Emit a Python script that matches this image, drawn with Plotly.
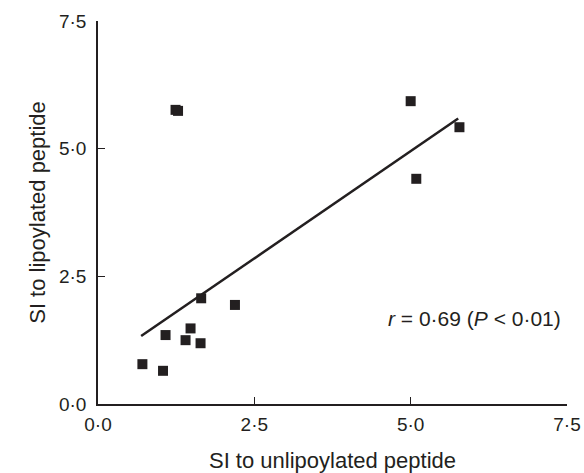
import plotly.graph_objects as go

# Data
unlipoylated_si = [1.24, 1.28, 5.00, 5.78, 5.09, 2.19, 1.65, 1.08, 1.48, 1.40, 1.64, 0.71, 1.04]
lipoylated_si   = [5.76, 5.74, 5.93, 5.42, 4.41, 1.94, 2.07, 1.35, 1.48, 1.25, 1.19, 0.78, 0.65]

fit_x = [0.69, 5.76]
fit_y = [1.33, 5.59]

tick_vals = [0, 2.5, 5.0, 7.5]
tick_text = ["0·0", "2·5", "5·0", "7·5"]

ink = "#231f20"
font_family = "Liberation Sans, Arial, Helvetica, sans-serif"

fig = go.Figure()
fig.add_trace(go.Scatter(x=fit_x, y=fit_y, mode="lines",
                         line=dict(color=ink, width=2.5), showlegend=False))
fig.add_trace(go.Scatter(x=unlipoylated_si, y=lipoylated_si, mode="markers",
                         marker=dict(symbol="square", size=10, color=ink,
                                     line=dict(width=0)),
                         showlegend=False))

axis_common = dict(
    range=[0, 7.5], tickvals=tick_vals, ticktext=tick_text,
    showgrid=False, zeroline=False, showline=True, linecolor=ink, linewidth=1.5,
    ticks="inside", ticklen=7, tickwidth=1.2, tickcolor=ink, automargin=False,
    tickfont=dict(family=font_family, size=19, color=ink),
    title_font=dict(family=font_family, size=22, color=ink),
)

fig.update_layout(
    width=584, height=473,
    margin=dict(l=98, r=17, t=21, b=69),
    plot_bgcolor="white", paper_bgcolor="white",
    xaxis=dict(**axis_common, ticklabelstandoff=2,
               title=dict(text="SI to unlipoylated peptide", standoff=25)),
    yaxis=dict(**axis_common, ticklabelstandoff=6,
               title=dict(text="SI to lipoylated peptide", standoff=7)),
    annotations=[dict(
        text="<i>r</i> = 0·69 (<i>P</i> < 0·01)", xref="paper", yref="paper",
        x=0.991, y=0.223, xanchor="right", yanchor="middle", showarrow=False,
        font=dict(family=font_family, size=21, color=ink))],
)

fig.write_html(
    "out.html",
    config={"displayModeBar": False},
    post_script="document.body.style.margin='0';document.body.style.overflow='hidden';",
)
